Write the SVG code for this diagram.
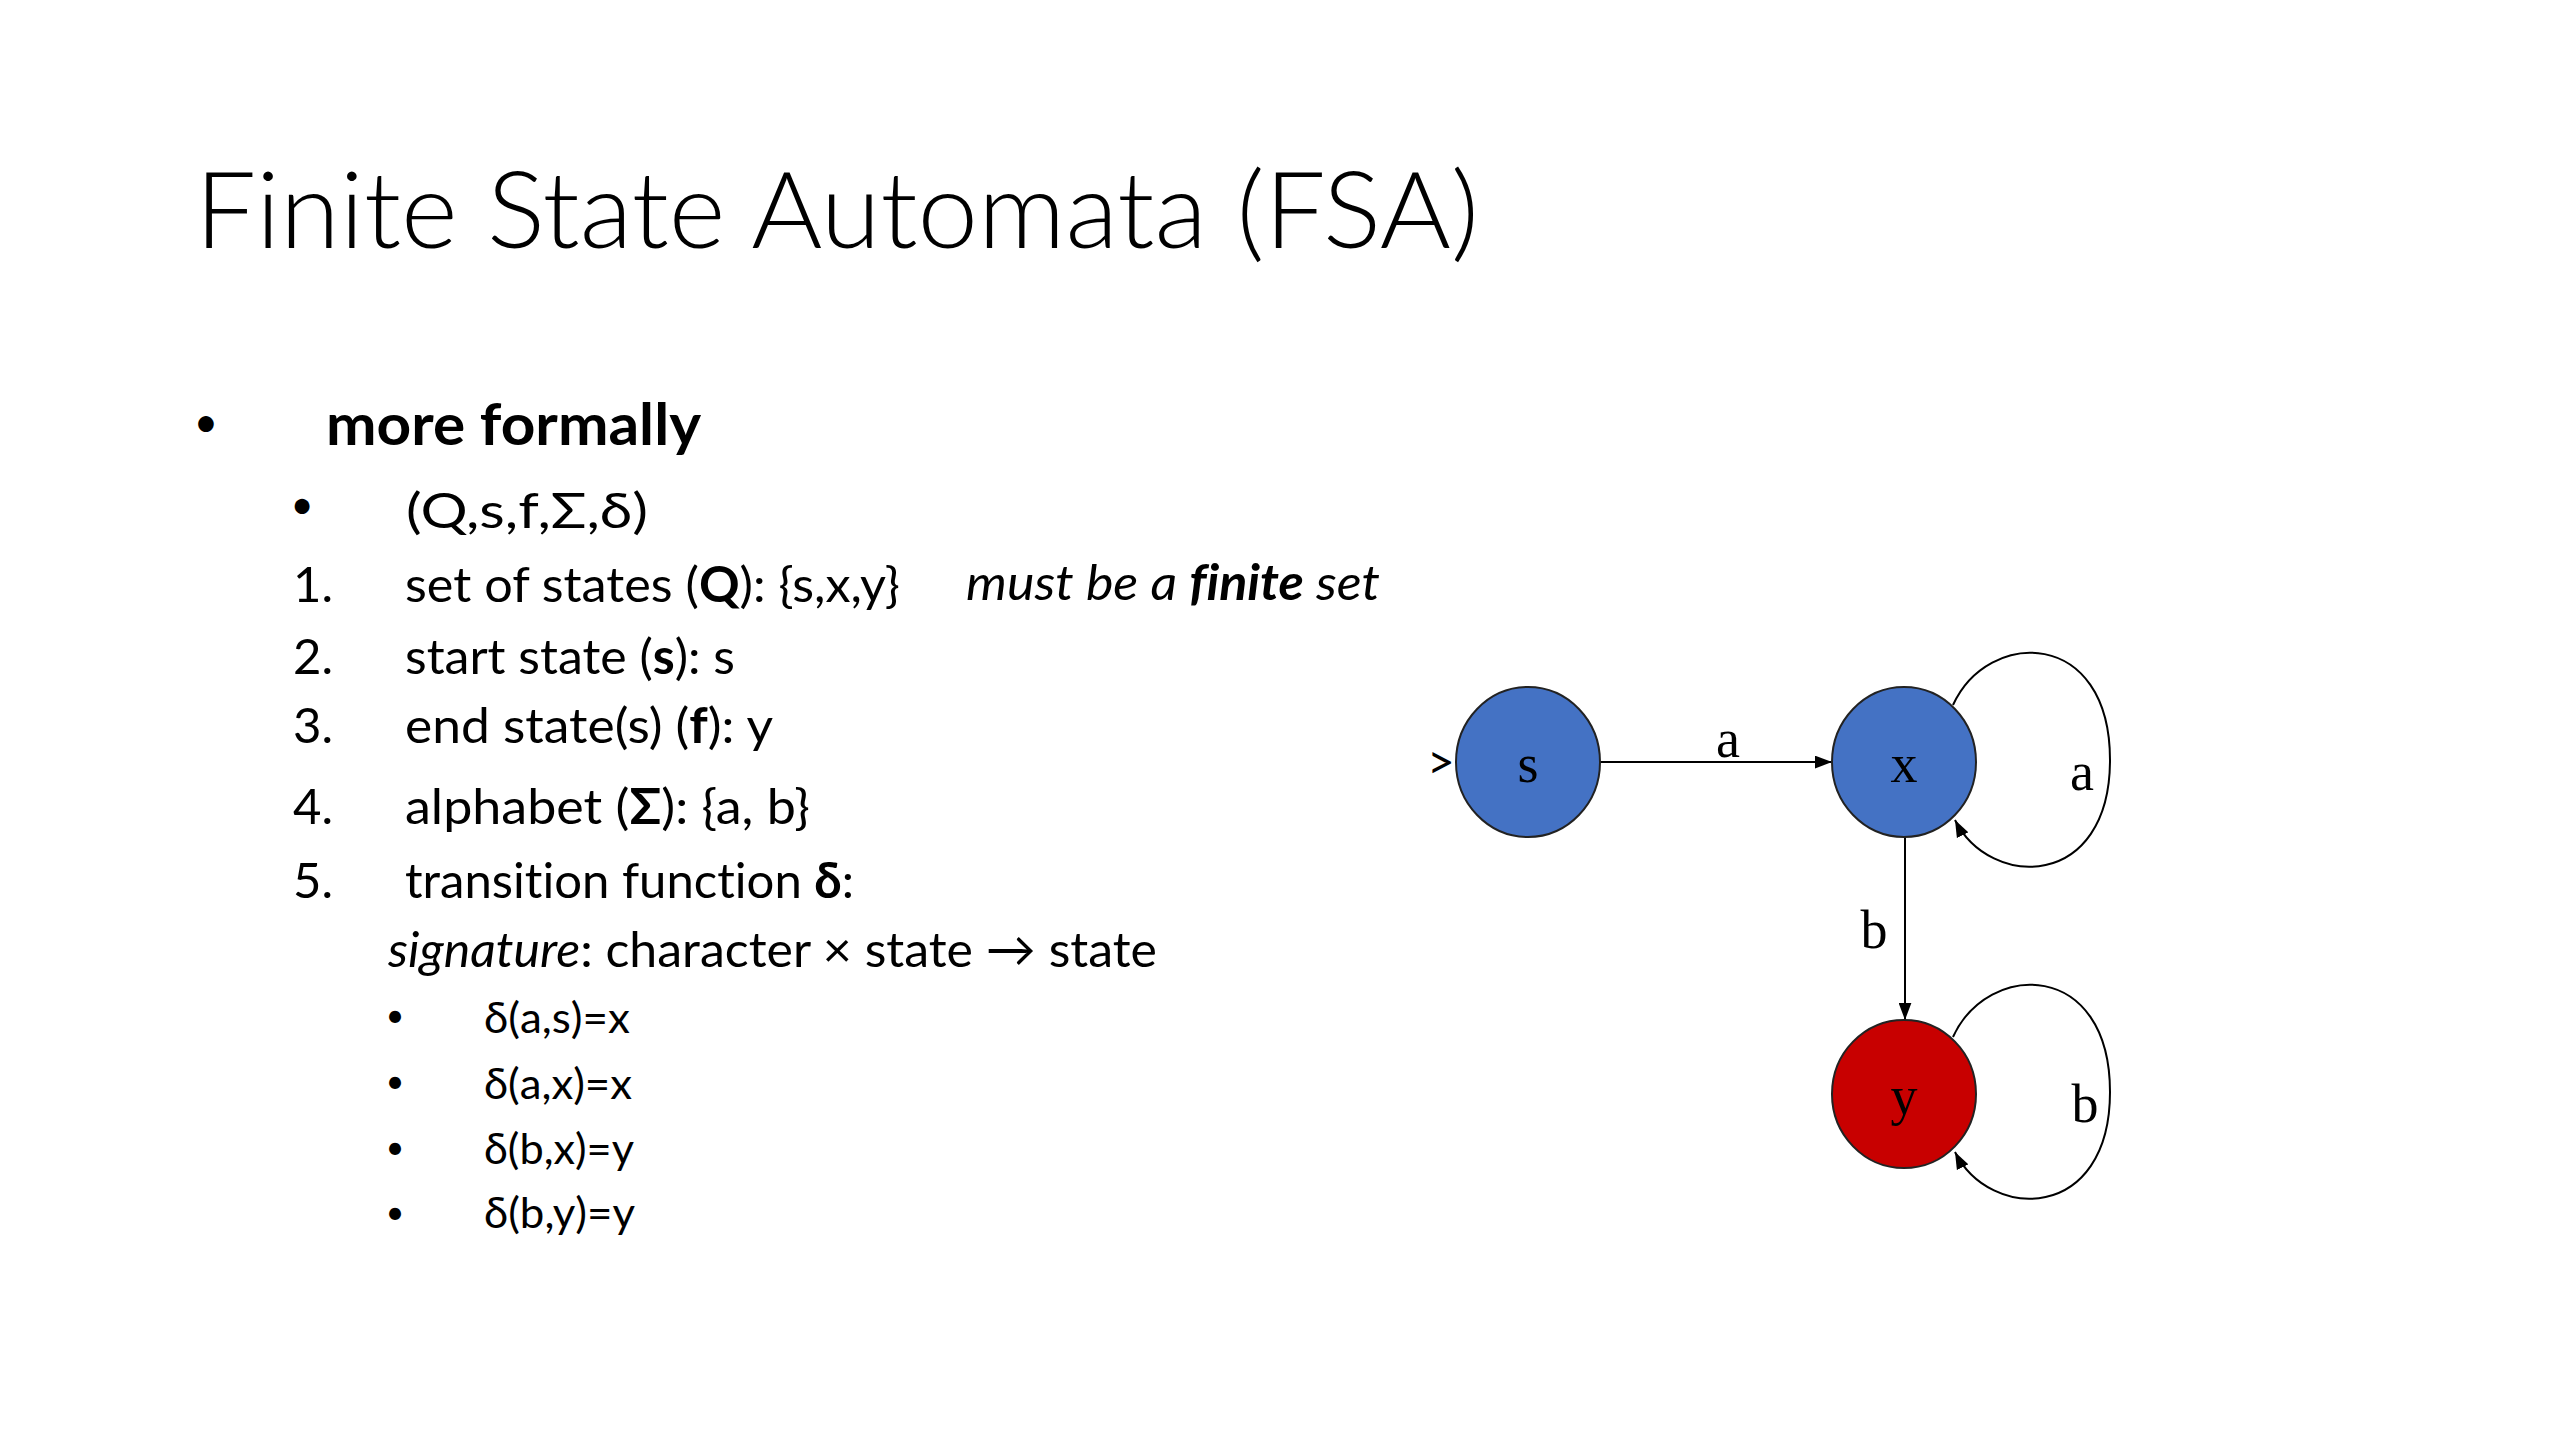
<svg xmlns="http://www.w3.org/2000/svg" width="2560" height="1440" viewBox="0 0 2560 1440">
<style>
  .sans { font-family: Lato, "Open Sans", "Liberation Sans", sans-serif; fill: #000; font-variant-ligatures: none; }
  .title { font-size: 106px; font-weight: 300; }
  .l1 { font-size: 58px; font-weight: 700; }
  .l2 { font-size: 49px; }
  .l3 { font-size: 42px; }
  .b { font-weight: 700; }
  .i { font-style: italic; }
  .bul { text-anchor: middle; font-weight: 400; }
  .serif { font-family: "Liberation Serif", "Times New Roman", serif; font-size: 54px; fill: #000; text-anchor: middle; }
  .state { stroke: #222; stroke-width: 2; }
  .blue { fill: #4472C4; }
  .red { fill: #C80000; }
  .edge { fill: none; stroke: #000; stroke-width: 2; }
</style>
<defs>
  <marker id="arr" viewBox="0 0 16 12" refX="16" refY="6" markerWidth="17" markerHeight="13" markerUnits="userSpaceOnUse" orient="auto">
    <path d="M0,0 L16,6 L0,12 z" fill="#000"/>
  </marker>
</defs>
<rect width="2560" height="1440" fill="#fff"/>

<g id="text">
  <text class="sans title" x="195" y="248" textLength="1284" lengthAdjust="spacingAndGlyphs">Finite State Automata (FSA)</text>

  <text class="sans bul" x="206" y="437" font-size="42">•</text>
  <text class="sans l1" x="326" y="445" textLength="375" lengthAdjust="spacingAndGlyphs">more formally</text>

  <text class="sans bul" x="302" y="519" font-size="40">•</text>
  <text class="sans l2" x="406" y="528" textLength="242" lengthAdjust="spacingAndGlyphs">(Q,s,f,Σ,δ)</text>

  <text class="sans l2" x="293" y="602">1.</text>
  <text class="sans l2" x="405" y="602" textLength="495" lengthAdjust="spacingAndGlyphs">set of states (<tspan class="b">Q</tspan>): {s,x,y}</text>
  <text class="sans l2 i" x="966" y="600" textLength="414" lengthAdjust="spacingAndGlyphs">must be a <tspan class="b">finite</tspan> set</text>

  <text class="sans l2" x="293" y="674">2.</text>
  <text class="sans l2" x="405" y="674" textLength="330" lengthAdjust="spacingAndGlyphs">start state (<tspan class="b">s</tspan>): s</text>

  <text class="sans l2" x="293" y="743">3.</text>
  <text class="sans l2" x="405" y="743" textLength="368" lengthAdjust="spacingAndGlyphs">end state(s) (<tspan class="b">f</tspan>): y</text>

  <text class="sans l2" x="293" y="824">4.</text>
  <text class="sans l2" x="405" y="824" textLength="405" lengthAdjust="spacingAndGlyphs">alphabet (<tspan class="b">Σ</tspan>): {a, b}</text>

  <text class="sans l2" x="293" y="898">5.</text>
  <text class="sans l2" x="405" y="898" textLength="449" lengthAdjust="spacingAndGlyphs">transition function <tspan class="b">δ</tspan>:</text>

  <text class="sans l2" x="388" y="967" textLength="769" lengthAdjust="spacingAndGlyphs"><tspan class="i">signature</tspan>: character × state → state</text>

  <text class="sans bul" x="395" y="1027" font-size="32">•</text>
  <text class="sans l3" x="484" y="1033" textLength="146" lengthAdjust="spacingAndGlyphs">δ(a,s)=x</text>
  <text class="sans bul" x="395" y="1093" font-size="32">•</text>
  <text class="sans l3" x="484" y="1099" textLength="148" lengthAdjust="spacingAndGlyphs">δ(a,x)=x</text>
  <text class="sans bul" x="395" y="1159" font-size="32">•</text>
  <text class="sans l3" x="484" y="1164" textLength="150" lengthAdjust="spacingAndGlyphs">δ(b,x)=y</text>
  <text class="sans bul" x="395" y="1224" font-size="32">•</text>
  <text class="sans l3" x="484" y="1228" textLength="151" lengthAdjust="spacingAndGlyphs">δ(b,y)=y</text>
</g>

<g id="connectors">
  <text class="sans" x="1427" y="779" font-size="48">&gt;</text>
  <line class="edge" x1="1600" y1="762" x2="1832" y2="762" stroke="#777" stroke-width="2.5" marker-end="url(#arr)"/>
  <text class="serif" x="1728" y="757">a</text>
  <line class="edge" x1="1905" y1="837" x2="1905" y2="1020" marker-end="url(#arr)"/>
  <text class="serif" x="1874" y="948">b</text>
  <path class="edge" d="M1953,705 C1988,628 2110,628 2110,760 C2110,890 1990,890 1955,820" marker-end="url(#arr)"/>
  <text class="serif" x="2082" y="790">a</text>
  <path class="edge" d="M1953,1037 C1988,960 2110,960 2110,1092 C2110,1222 1990,1222 1955,1152" marker-end="url(#arr)"/>
  <text class="serif" x="2085" y="1122">b</text>
</g>

<g id="node-s">
  <ellipse class="state blue" cx="1528" cy="762" rx="72" ry="75"/>
  <text class="serif" x="1528" y="782">s</text>
</g>
<g id="node-x">
  <ellipse class="state blue" cx="1904" cy="762" rx="72" ry="75"/>
  <text class="serif" x="1904" y="782">x</text>
</g>
<g id="node-y">
  <ellipse class="state red" cx="1904" cy="1094" rx="72" ry="74"/>
  <text class="serif" x="1904" y="1114">y</text>
</g>
</svg>
